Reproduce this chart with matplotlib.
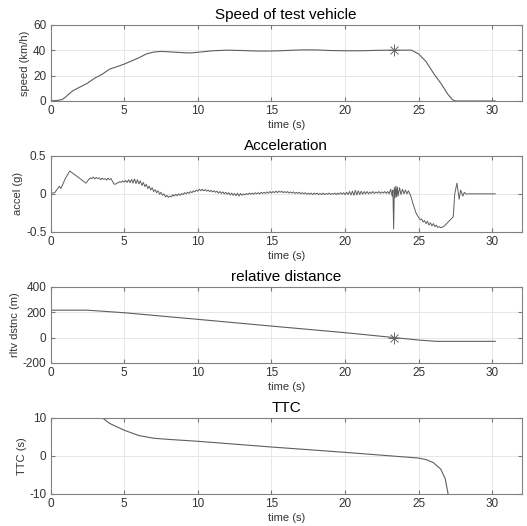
import numpy as np
import matplotlib.pyplot as plt

plt.rcParams['font.family'] = ['Liberation Sans', 'DejaVu Sans']

# speed of test vehicle (km/h)
speed_t = [0, 0.5, 0.8, 1.0, 1.5, 2.0, 2.5, 3.0, 3.5, 4.0, 5.0, 6.0, 6.5, 7.0,
           7.5, 8.0, 9.0, 9.5, 10.0, 11.0, 12.0, 13.0, 14.0, 15.0, 16.0, 17.0,
           18.0, 19.0, 20.0, 21.0, 22.0, 23.0, 24.0, 24.5, 25.0, 25.5, 26.0,
           26.5, 27.0, 27.3, 27.5, 30.2]
speed_v = [0, 0.5, 1.2, 3, 8, 11, 14, 18, 21, 25, 29, 34, 37, 38.5,
           39, 38.7, 38, 37.8, 38.3, 39.5, 40, 39.7, 39.3, 39.3, 39.7, 40.2,
           40.2, 39.7, 39.5, 39.5, 39.8, 40, 40, 40, 37, 31, 22,
           14, 5, 1, 0, 0]

# acceleration (g), (time, value) samples
accel_samples = [
    (0, 0), (0.3, 0.02), (0.6, 0.1), (0.7, 0.07), (1.0, 0.2), (1.3, 0.3),
    (1.5, 0.27), (2.0, 0.2), (2.4, 0.14),
    (2.6, 0.19), (2.7, 0.21), (2.8, 0.2), (2.9, 0.22), (3.0, 0.195),
    (3.1, 0.215), (3.2, 0.2), (3.3, 0.21), (3.4, 0.185), (3.5, 0.205),
    (3.6, 0.19), (3.7, 0.2), (3.8, 0.18), (3.9, 0.205), (4.0, 0.185),
    (4.1, 0.2), (4.2, 0.165), (4.3, 0.13), (4.4, 0.125), (4.5, 0.14),
    (4.6, 0.145), (4.7, 0.16), (4.8, 0.15), (4.9, 0.17), (5.0, 0.155),
    (5.1, 0.175), (5.2, 0.15), (5.3, 0.185), (5.4, 0.145), (5.5, 0.19),
    (5.6, 0.14), (5.7, 0.195), (5.8, 0.135), (5.9, 0.185), (6.0, 0.13),
    (6.1, 0.17), (6.2, 0.11), (6.3, 0.15), (6.4, 0.095), (6.5, 0.125),
    (6.6, 0.07), (6.7, 0.1), (6.8, 0.05), (6.9, 0.08), (7.0, 0.03),
    (7.1, 0.055), (7.2, 0.015), (7.3, 0.04), (7.4, -0.005), (7.5, 0.02),
    (7.6, -0.02), (7.7, 0.0), (7.8, -0.04), (7.9, -0.02), (8.0, -0.045),
    (8.1, -0.03), (8.2, -0.04), (8.3, -0.01), (8.4, -0.03), (8.5, -0.005),
    (8.6, -0.025), (8.7, 0.0), (8.8, -0.02), (8.9, 0.005), (9.0, -0.01),
    (9.1, 0.015), (9.2, 0.0), (9.3, 0.02), (9.4, 0.005), (9.5, 0.03),
    (9.6, 0.015), (9.7, 0.04), (9.8, 0.025), (9.9, 0.05), (10.0, 0.035),
    (10.1, 0.06), (10.2, 0.04), (10.3, 0.06), (10.4, 0.04), (10.5, 0.055),
    (10.6, 0.035), (10.7, 0.05), (10.8, 0.03), (10.9, 0.045), (11.0, 0.025),
    (11.1, 0.04), (11.2, 0.02), (11.3, 0.035), (11.4, 0.01), (11.5, 0.03),
    (11.6, 0.005), (11.7, 0.025), (11.8, 0.0), (11.9, 0.02), (12.0, -0.005),
    (12.1, 0.015), (12.2, -0.015), (12.3, 0.01), (12.4, -0.02), (12.5, 0.005),
    (12.6, -0.025), (12.7, 0.01), (12.8, -0.03), (12.9, 0.005), (13.0, -0.02),
    (13.1, 0.0), (13.2, -0.015), (13.3, 0.005), (13.4, -0.01), (13.5, 0.01),
    (13.6, -0.005), (13.7, 0.01), (13.8, -0.005), (13.9, 0.015), (14.0, 0.0),
    (14.1, 0.015), (14.2, 0.0), (14.3, 0.02), (14.4, 0.005), (14.5, 0.02),
    (14.6, 0.005), (14.7, 0.025), (14.8, 0.01), (14.9, 0.03), (15.0, 0.01),
    (15.1, 0.03), (15.2, 0.015), (15.3, 0.035), (15.4, 0.015), (15.5, 0.035),
    (15.6, 0.02), (15.7, 0.035), (15.8, 0.015), (15.9, 0.03), (16.0, 0.015),
    (16.1, 0.03), (16.2, 0.01), (16.3, 0.025), (16.4, 0.01), (16.5, 0.025),
    (16.6, 0.005), (16.7, 0.02), (16.8, 0.005), (16.9, 0.02), (17.0, 0.0),
    (17.1, 0.015), (17.2, 0.0), (17.3, 0.015), (17.4, -0.005), (17.5, 0.01),
    (17.6, -0.005), (17.7, 0.01), (17.8, -0.01), (17.9, 0.01), (18.0, -0.005),
    (18.1, 0.01), (18.2, -0.01), (18.3, 0.005), (18.4, -0.01), (18.5, 0.01),
    (18.6, -0.01), (18.7, 0.005), (18.8, -0.005), (18.9, 0.01), (19.0, -0.01),
    (19.1, 0.005), (19.2, -0.005), (19.3, 0.01), (19.4, -0.01), (19.5, 0.01),
    (19.6, -0.005), (19.7, 0.015), (19.8, -0.005), (19.9, 0.015), (20.0, -0.01),
    (20.1, 0.02), (20.2, -0.01), (20.3, 0.03), (20.4, -0.015), (20.5, 0.035),
    (20.6, -0.02), (20.7, 0.045), (20.8, -0.015), (20.9, 0.04), (21.0, -0.01),
    (21.1, 0.035), (21.2, -0.005), (21.3, 0.03), (21.4, 0.0), (21.5, 0.03),
    (21.6, 0.0), (21.7, 0.025), (21.8, 0.005), (21.9, 0.03), (22.0, 0.005),
    (22.1, 0.025), (22.2, 0.01), (22.3, 0.03), (22.4, 0.005), (22.5, 0.025),
    (22.6, 0.01), (22.7, 0.03), (22.8, 0.005), (22.9, 0.03), (23.0, 0.0),
    (23.1, 0.06), (23.2, -0.03), (23.25, 0.05), (23.3, -0.46), (23.35, 0.08),
    (23.4, -0.05), (23.45, 0.1), (23.5, -0.04), (23.55, 0.09), (23.6, -0.03),
    (23.7, 0.08), (23.8, -0.01), (23.9, 0.06), (24.0, 0.0), (24.1, 0.05),
    (24.2, 0.0), (24.3, 0.04), (24.4, 0.0), (24.5, -0.05), (24.6, -0.12),
    (24.7, -0.18), (24.8, -0.24), (24.9, -0.28), (25.0, -0.31), (25.1, -0.34),
    (25.2, -0.33), (25.3, -0.37), (25.4, -0.35), (25.5, -0.39), (25.6, -0.36),
    (25.7, -0.41), (25.8, -0.38), (25.9, -0.42), (26.0, -0.39), (26.1, -0.43),
    (26.2, -0.41), (26.3, -0.44), (26.4, -0.43), (26.5, -0.445), (26.6, -0.435),
    (26.7, -0.43), (26.8, -0.41), (27.0, -0.37), (27.2, -0.33), (27.35, -0.3),
    (27.45, 0.0), (27.6, 0.14), (27.75, -0.07), (27.85, 0.05), (28.0, -0.03),
    (28.1, 0.02), (28.25, -0.005), (28.4, 0.0), (30.2, 0.0),
]
accel_t = [p[0] for p in accel_samples]
accel_g = [p[1] for p in accel_samples]

# relative distance (m)
dist_t = [0, 2.5, 5, 10, 15, 20, 23.3, 25, 26.2, 30.2]
dist_v = [215, 215, 195, 143, 90, 38, 0, -20, -30, -30]

# time to collision (s)
ttc_t = [3.5, 4, 5, 6, 7, 8, 10, 15, 20, 25, 25.5, 26, 26.5, 26.8, 27.0]
ttc_v = [10, 8.5, 6.7, 5.3, 4.6, 4.3, 3.8, 2.3, 0.9, -0.6, -1, -1.8, -3.5, -6, -10]

# event marker
mark_t = 23.3
mark_speed = 40
mark_dist = 0

fig = plt.figure(figsize=(5.27, 5.26), dpi=100)

panels = [
    (speed_t, speed_v, 'Speed of test vehicle', 'speed (km/h)', (0, 60), [0, 20, 40, 60], mark_speed, 0.8),
    (accel_t, accel_g, 'Acceleration', 'accel (g)', (-0.5, 0.5), [-0.5, 0, 0.5], None, 0.7),
    (dist_t, dist_v, 'relative distance', 'rltv dstnc (m)', (-200, 400), [-200, 0, 200, 400], mark_dist, 0.8),
    (ttc_t, ttc_v, 'TTC', 'TTC (s)', (-10, 10), [-10, 0, 10], None, 0.8),
]
bottoms = [0.808, 0.559, 0.310, 0.061]

for (t, v, title, ylabel, ylim, yticks, mark, lw), b in zip(panels, bottoms):
    ax = fig.add_axes([0.096, b, 0.894, 0.145])
    ax.plot(t, v, color='#5e5e5e', lw=lw)
    if mark is not None:
        # matlab-style asterisk: plus and cross on top of each other
        ax.plot([mark_t], [mark], marker='+', ms=8, color='#666666', markeredgewidth=0.7)
        ax.plot([mark_t], [mark], marker='x', ms=6, color='#666666', markeredgewidth=0.7)
    ax.set_xlim(0, 32)
    ax.set_ylim(*ylim)
    ax.set_xticks([0, 5, 10, 15, 20, 25, 30])
    ax.set_yticks(yticks)
    ax.set_yticklabels([f'{y:g}' for y in yticks])
    ax.grid(True, color='#e6e6e6', lw=0.7)
    ax.set_axisbelow(True)
    ax.tick_params(direction='in', top=True, right=True, length=3,
                   labelsize=8.5, color='#777777', labelcolor='#333333', pad=3)
    for s in ax.spines.values():
        s.set_color('#808080')
        s.set_linewidth(0.8)
    ax.set_title(title, fontsize=11, pad=4)
    ax.set_xlabel('time (s)', fontsize=8, labelpad=2, color='#333333')
    ax.set_ylabel(ylabel, fontsize=8, labelpad=2, color='#333333')

fig.savefig('out.png', dpi=100)
